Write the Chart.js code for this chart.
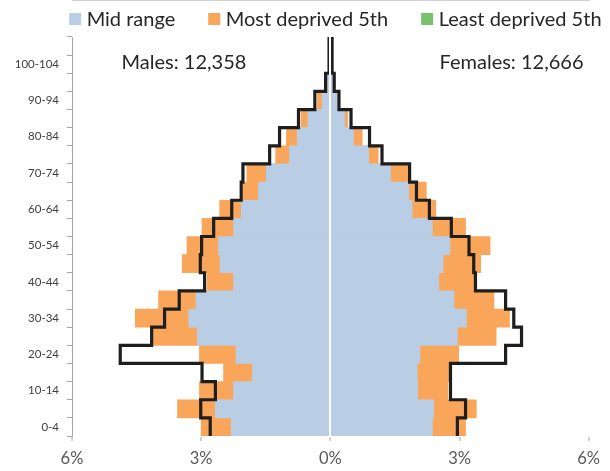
<!DOCTYPE html>
<html>
<head>
<meta charset="utf-8">
<script src="https://cdn.jsdelivr.net/npm/chart.js@4"></script>
<style>
  html, body { margin: 0; padding: 0; background: #ffffff; }
  #wrap { width: 610px; height: 471px; }
</style>
</head>
<body>
<div id="wrap"><canvas id="c" width="610" height="471"></canvas></div>
<script>
// ---- Data (percent of population), index 0 = youngest age group ----
const ageGroups = ['0-4','5-9','10-14','15-19','20-24','25-29','30-34','35-39','40-44','45-49',
  '50-54','55-59','60-64','65-69','70-74','75-79','80-84','85-89','90-94','95-99','100-104','105+'];

const midMale     = [2.30, 2.67, 2.25, 1.81, 2.19, 3.09, 3.29, 3.12, 2.25, 2.56, 2.60, 2.25, 2.07, 1.67, 1.49, 0.95, 0.77, 0.52, 0.19, 0.07, 0.01, 0];
const mostMale    = [3.00, 3.55, 3.04, 2.48, 3.04, 4.11, 4.53, 3.99, 2.86, 3.44, 3.33, 2.98, 2.57, 2.02, 1.94, 1.27, 1.02, 0.68, 0.30, 0.06, 0.01, 0];
const leastMale   = [2.79, 3.01, 2.67, 2.98, 4.88, 4.15, 3.85, 3.51, 2.92, 3.02, 2.99, 2.71, 2.29, 2.07, 2.03, 1.41, 1.18, 0.74, 0.36, 0.11, 0.03, 0.03];

const midFemale   = [2.37, 2.40, 2.03, 2.02, 2.08, 2.95, 3.16, 2.87, 2.52, 2.62, 2.78, 2.37, 1.90, 1.82, 1.40, 0.89, 0.54, 0.33, 0.16, 0.07, 0.01, 0];
const mostFemale  = [3.14, 3.39, 2.73, 2.75, 2.98, 3.85, 4.16, 3.80, 3.33, 3.49, 3.71, 3.14, 2.45, 2.23, 1.80, 1.11, 0.74, 0.40, 0.14, 0.05, 0.01, 0];
const leastFemale = [2.95, 3.14, 2.79, 2.79, 4.07, 4.44, 4.26, 4.07, 3.37, 3.33, 3.22, 2.81, 2.30, 2.00, 1.84, 1.20, 0.91, 0.48, 0.20, 0.09, 0.04, 0.04];

const seriesNames  = ['Mid range', 'Most deprived 5th', 'Least deprived 5th'];
const seriesColors = ['#B9CDE5', '#F9A65A', '#77C26B'];
const outlineColor = '#1e1e1e';
const totalLabels  = ['Males: 12,358', 'Females: 12,666'];
const xMin = -6, xMax = 6, xStep = 3;

// step outline of a series: each age band becomes a vertical segment spanning the band
function outline(vals, sign) {
  const pts = [];
  vals.forEach((v, i) => {
    pts.push({ x: sign * v, y: i - 0.5 });
    pts.push({ x: sign * v, y: i + 0.5 });
  });
  return pts;
}

const FONT = 'Lato, "Open Sans", "DejaVu Sans", sans-serif';

const extras = {
  id: 'extras',
  afterDraw(chart) {
    const { ctx, chartArea, scales } = chart;
    ctx.save();
    ctx.font = '20px ' + FONT;
    ctx.textBaseline = 'middle';
    // legend
    const box = 12, gap = 5.5, itemGap = 33, ly = 19;
    const widths = seriesNames.map(n => ctx.measureText(n).width);
    const total = widths.reduce((a, w) => a + box + gap + w, 0) + itemGap * (seriesNames.length - 1);
    let x = (chartArea.left + chartArea.right) / 2 + 5 - total / 2;
    seriesNames.forEach((n, i) => {
      ctx.fillStyle = seriesColors[i];
      ctx.fillRect(x, ly - box / 2, box, box);
      ctx.fillStyle = '#262626';
      ctx.textAlign = 'left';
      ctx.fillText(n, x + box + gap, ly + 1);
      x += box + gap + widths[i] + itemGap;
    });
    // population totals
    ctx.fillStyle = '#262626';
    ctx.textAlign = 'left';
    ctx.fillText(totalLabels[0], scales.x.getPixelForValue(-4.85), 63);
    ctx.textAlign = 'right';
    ctx.fillText(totalLabels[1], scales.x.getPixelForValue(5.88), 63);
    ctx.restore();
  }
};

function barSet(label, vals, sign, color, order) {
  return {
    type: 'bar', label, data: vals.map(v => sign * v),
    backgroundColor: color, borderWidth: 0, grouped: false,
    barPercentage: 1, categoryPercentage: 1, order,
    xAxisID: 'x', yAxisID: 'y'
  };
}
function lineSet(label, vals, sign) {
  return {
    type: 'line', label, data: outline(vals, sign),
    borderColor: outlineColor, borderWidth: 3.2, pointRadius: 0, fill: false,
    tension: 0, order: 0, clip: false, borderJoinStyle: 'miter', borderCapStyle: 'butt',
    xAxisID: 'x', yAxisID: 'yl'
  };
}

function build() {
  new Chart(document.getElementById('c'), {
    type: 'bar',
    data: {
      labels: ageGroups,
      datasets: [
        lineSet(seriesNames[2], leastMale, -1),
        lineSet(seriesNames[2], leastFemale, 1),
        barSet(seriesNames[0], midMale, -1, seriesColors[0], 1),
        barSet(seriesNames[0], midFemale, 1, seriesColors[0], 1),
        barSet(seriesNames[1], mostMale, -1, seriesColors[1], 2),
        barSet(seriesNames[1], mostFemale, 1, seriesColors[1], 2)
      ]
    },
    options: {
      indexAxis: 'y',
      responsive: false,
      animation: false,
      events: [],
      layout: { padding: { top: 37, right: 21.3, bottom: 0, left: 0 } },
      plugins: { legend: { display: false }, tooltip: { enabled: false } },
      scales: {
        x: {
          type: 'linear', min: xMin, max: xMax,
          afterFit(s) { s.height = 35; },
          ticks: {
            stepSize: xStep,
            callback: v => Math.abs(v) + '%',
            font: { family: FONT, size: 16.5 },
            color: '#595959', padding: 8
          },
          grid: {
            z: 1, drawOnChartArea: true, drawTicks: true, tickLength: 5,
            lineWidth: 2,
            color: c => (c.tick && c.tick.value === 0) ? '#ffffff' : 'rgba(0,0,0,0)',
            tickColor: '#a6a6a6', tickWidth: 1
          },
          border: { display: true, color: '#a6a6a6', width: 1 }
        },
        y: {
          type: 'category', reverse: true, offset: true,
          afterFit(s) { s.width = 72; },
          ticks: {
            autoSkip: false,
            callback: function (v, i) { return i % 2 === 0 ? this.getLabelForValue(v) : ''; },
            font: { family: FONT, size: 11.5 },
            color: '#404040', padding: 8
          },
          grid: { offset: true, drawOnChartArea: false, drawTicks: true, tickLength: 5, tickColor: '#a6a6a6' },
          border: { display: true, color: '#a6a6a6', width: 1 }
        },
        yl: {
          type: 'linear', display: false, offset: false,
          min: -0.5, max: ageGroups.length - 0.5,
          grid: { offset: false }
        }
      }
    },
    plugins: [extras]
  });
}

if (document.fonts && document.fonts.load) {
  Promise.all([document.fonts.load('20px Lato'), document.fonts.load('12px Lato')])
    .then(build, build);
} else { build(); }
</script>
</body>
</html>
